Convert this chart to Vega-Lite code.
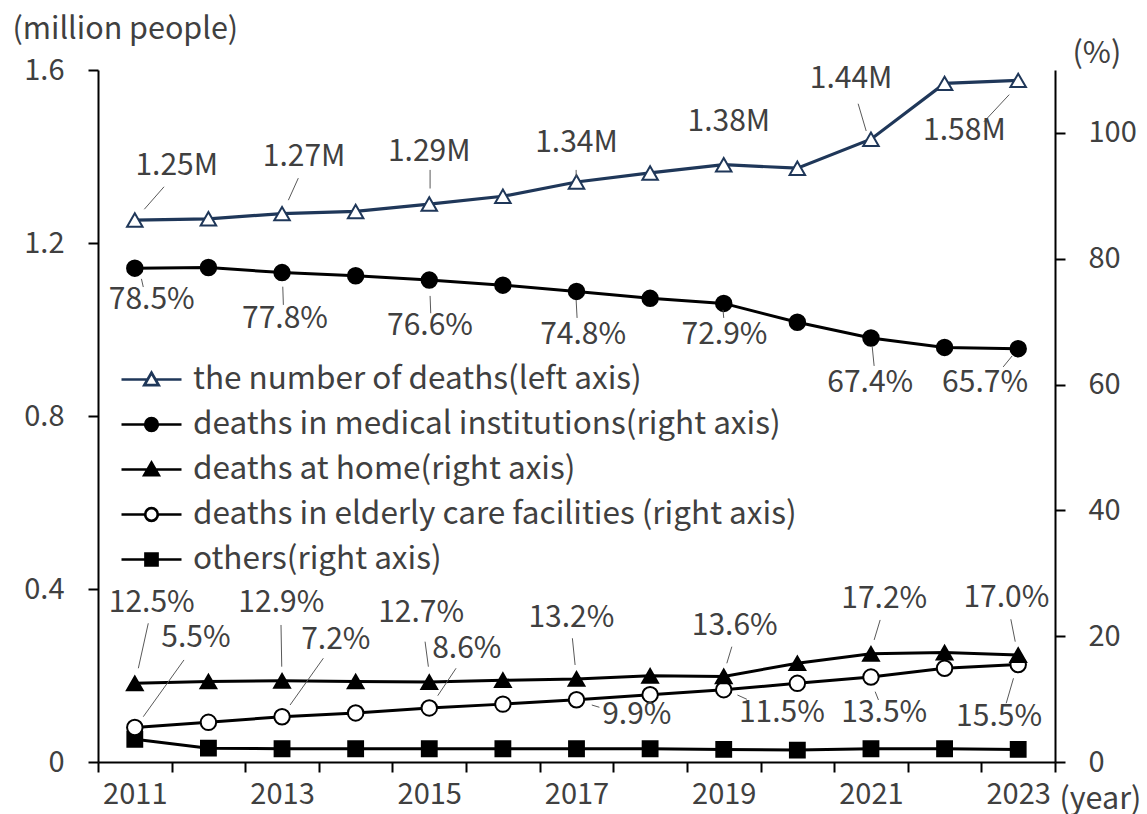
{
  "$schema": "https://vega.github.io/schema/vega-lite/v6.json",
  "width": 957,
  "height": 692,
  "autosize": {"type": "none"},
  "padding": {"left": 98, "top": 70, "right": 92, "bottom": 52},
  "background": "#ffffff",
  "config": {
    "font": "Noto Sans CJK JP",
    "view": {"stroke": null},
    "axis": {"grid": false, "domainColor": "#000000", "domainWidth": 2, "tickColor": "#000000", "tickWidth": 2, "tickSize": 10, "labelFontSize": 29, "labelColor": "#404040", "titleFontSize": 30.5, "titleColor": "#404040", "titleFontWeight": "normal"},
    "legend": {"orient": "none", "legendX": 37, "legendY": 293, "padding": 0, "symbolSize": 900, "symbolStrokeWidth": 2.7, "symbolOpacity": 1, "labelFontSize": 31.5, "labelColor": "#404040", "labelOffset": 25, "rowPadding": 13, "labelLimit": 900}
  },
  "datasets": {
    "deaths": [
      {"year": 2011, "value": 1.253},
      {"year": 2012, "value": 1.256},
      {"year": 2013, "value": 1.268},
      {"year": 2014, "value": 1.273},
      {"year": 2015, "value": 1.290},
      {"year": 2016, "value": 1.308},
      {"year": 2017, "value": 1.341},
      {"year": 2018, "value": 1.362},
      {"year": 2019, "value": 1.381},
      {"year": 2020, "value": 1.373},
      {"year": 2021, "value": 1.440},
      {"year": 2022, "value": 1.569},
      {"year": 2023, "value": 1.576}
    ],
    "shares": [
      {"year": 2011, "series": "others", "value": 3.6},
      {"year": 2012, "series": "others", "value": 2.2},
      {"year": 2013, "series": "others", "value": 2.1},
      {"year": 2014, "series": "others", "value": 2.1},
      {"year": 2015, "series": "others", "value": 2.1},
      {"year": 2016, "series": "others", "value": 2.1},
      {"year": 2017, "series": "others", "value": 2.1},
      {"year": 2018, "series": "others", "value": 2.1},
      {"year": 2019, "series": "others", "value": 2.0},
      {"year": 2020, "series": "others", "value": 1.9},
      {"year": 2021, "series": "others", "value": 2.1},
      {"year": 2022, "series": "others", "value": 2.1},
      {"year": 2023, "series": "others", "value": 2.0},
      {"year": 2011, "series": "elderly", "value": 5.5},
      {"year": 2012, "series": "elderly", "value": 6.3},
      {"year": 2013, "series": "elderly", "value": 7.2},
      {"year": 2014, "series": "elderly", "value": 7.8},
      {"year": 2015, "series": "elderly", "value": 8.6},
      {"year": 2016, "series": "elderly", "value": 9.2},
      {"year": 2017, "series": "elderly", "value": 9.9},
      {"year": 2018, "series": "elderly", "value": 10.7},
      {"year": 2019, "series": "elderly", "value": 11.5},
      {"year": 2020, "series": "elderly", "value": 12.5},
      {"year": 2021, "series": "elderly", "value": 13.5},
      {"year": 2022, "series": "elderly", "value": 14.9},
      {"year": 2023, "series": "elderly", "value": 15.5},
      {"year": 2011, "series": "home", "value": 12.5},
      {"year": 2012, "series": "home", "value": 12.8},
      {"year": 2013, "series": "home", "value": 12.9},
      {"year": 2014, "series": "home", "value": 12.8},
      {"year": 2015, "series": "home", "value": 12.7},
      {"year": 2016, "series": "home", "value": 13.0},
      {"year": 2017, "series": "home", "value": 13.2},
      {"year": 2018, "series": "home", "value": 13.7},
      {"year": 2019, "series": "home", "value": 13.6},
      {"year": 2020, "series": "home", "value": 15.7},
      {"year": 2021, "series": "home", "value": 17.2},
      {"year": 2022, "series": "home", "value": 17.4},
      {"year": 2023, "series": "home", "value": 17.0},
      {"year": 2011, "series": "medical", "value": 78.5},
      {"year": 2012, "series": "medical", "value": 78.6},
      {"year": 2013, "series": "medical", "value": 77.8},
      {"year": 2014, "series": "medical", "value": 77.3},
      {"year": 2015, "series": "medical", "value": 76.6},
      {"year": 2016, "series": "medical", "value": 75.8},
      {"year": 2017, "series": "medical", "value": 74.8},
      {"year": 2018, "series": "medical", "value": 73.7},
      {"year": 2019, "series": "medical", "value": 72.9},
      {"year": 2020, "series": "medical", "value": 69.9},
      {"year": 2021, "series": "medical", "value": 67.4},
      {"year": 2022, "series": "medical", "value": 65.9},
      {"year": 2023, "series": "medical", "value": 65.7}
    ],
    "deathLabels": [
      {"text": "1.25M", "labelYear": 2011.57, "labelValue": 1.378, "fromYear": 2011.129, "fromValue": 1.278, "toYear": 2011.397, "toValue": 1.330},
      {"text": "1.27M", "labelYear": 2013.30, "labelValue": 1.399, "fromYear": 2013.086, "fromValue": 1.299, "toYear": 2013.221, "toValue": 1.350},
      {"text": "1.29M", "labelYear": 2015.00, "labelValue": 1.410, "fromYear": 2015.011, "fromValue": 1.326, "toYear": 2015.011, "toValue": 1.369},
      {"text": "1.34M", "labelYear": 2017.00, "labelValue": 1.431, "fromYear": 2016.995, "fromValue": 1.353, "toYear": 2016.995, "toValue": 1.369},
      {"text": "1.38M", "labelYear": 2019.07, "labelValue": 1.480, "fromYear": 2019.0, "fromValue": 1.395, "toYear": 2019.0, "toValue": 1.395},
      {"text": "1.44M", "labelYear": 2020.73, "labelValue": 1.579, "fromYear": 2020.935, "fromValue": 1.459, "toYear": 2020.826, "toValue": 1.522},
      {"text": "1.58M", "labelYear": 2022.27, "labelValue": 1.459, "fromYear": 2022.878, "fromValue": 1.543, "toYear": 2022.533, "toValue": 1.480}
    ],
    "shareLabels": [
      {"text": "78.5%", "labelYear": 2011.23, "labelValue": 73.4, "fromYear": 2011.09, "fromValue": 76.8, "toYear": 2011.115, "toValue": 75.5},
      {"text": "77.8%", "labelYear": 2013.04, "labelValue": 70.4, "fromYear": 2013.01, "fromValue": 75.56, "toYear": 2013.018, "toValue": 72.66},
      {"text": "76.6%", "labelYear": 2015.01, "labelValue": 69.3, "fromYear": 2015.011, "fromValue": 74.09, "toYear": 2015.02, "toValue": 71.34},
      {"text": "74.8%", "labelYear": 2017.09, "labelValue": 67.8, "fromYear": 2016.995, "fromValue": 73.45, "toYear": 2017.008, "toValue": 70.59},
      {"text": "72.9%", "labelYear": 2019.01, "labelValue": 67.8, "fromYear": 2018.99, "fromValue": 71.86, "toYear": 2019.0, "toValue": 70.59},
      {"text": "67.4%", "labelYear": 2020.99, "labelValue": 60.3, "fromYear": 2021.016, "fromValue": 66.14, "toYear": 2021.043, "toValue": 62.96},
      {"text": "65.7%", "labelYear": 2022.55, "labelValue": 60.3, "fromYear": 2022.918, "fromValue": 64.55, "toYear": 2022.796, "toValue": 62.80},
      {"text": "12.5%", "labelYear": 2011.23, "labelValue": 25.3, "fromYear": 2011.183, "fromValue": 22.05, "toYear": 2011.048, "toValue": 14.9},
      {"text": "12.9%", "labelYear": 2012.99, "labelValue": 25.3, "fromYear": 2012.986, "fromValue": 21.78, "toYear": 2012.996, "toValue": 15.15},
      {"text": "12.7%", "labelYear": 2014.89, "labelValue": 23.7, "fromYear": 2014.943, "fromValue": 19.13, "toYear": 2014.988, "toValue": 15.15},
      {"text": "13.2%", "labelYear": 2016.93, "labelValue": 22.9, "fromYear": 2016.944, "fromValue": 19.67, "toYear": 2016.981, "toValue": 15.42},
      {"text": "13.6%", "labelYear": 2019.15, "labelValue": 21.6, "fromYear": 2019.11, "fromValue": 18.33, "toYear": 2019.042, "toValue": 15.69},
      {"text": "17.2%", "labelYear": 2021.18, "labelValue": 25.9, "fromYear": 2021.125, "fromValue": 22.58, "toYear": 2021.043, "toValue": 19.40},
      {"text": "17.0%", "labelYear": 2022.84, "labelValue": 26.1, "fromYear": 2022.90, "fromValue": 22.69, "toYear": 2022.96, "toValue": 19.13},
      {"text": "5.5%", "labelYear": 2011.83, "labelValue": 19.7, "fromYear": 2011.668, "fromValue": 16.22, "toYear": 2011.115, "toValue": 7.20},
      {"text": "7.2%", "labelYear": 2013.73, "labelValue": 19.4, "fromYear": 2013.561, "fromValue": 16.49, "toYear": 2013.109, "toValue": 9.06},
      {"text": "8.6%", "labelYear": 2015.51, "labelValue": 18.0, "fromYear": 2015.364, "fromValue": 14.90, "toYear": 2015.115, "toValue": 10.54},
      {"text": "9.9%", "labelYear": 2017.82, "labelValue": 7.5, "fromYear": 2017.208, "fromValue": 9.06, "toYear": 2017.311, "toValue": 8.70},
      {"text": "11.5%", "labelYear": 2019.79, "labelValue": 7.8, "fromYear": 2019.186, "fromValue": 10.65, "toYear": 2019.314, "toValue": 9.97},
      {"text": "13.5%", "labelYear": 2021.18, "labelValue": 7.8, "fromYear": 2021.057, "fromValue": 11.18, "toYear": 2021.102, "toValue": 9.86},
      {"text": "15.5%", "labelYear": 2022.74, "labelValue": 7.2, "fromYear": 2022.936, "fromValue": 13.31, "toYear": 2022.837, "toValue": 9.33}
    ],
    "legendEntries": [
      {"series": "deaths"},
      {"series": "medical"},
      {"series": "home"},
      {"series": "elderly"},
      {"series": "others"}
    ]
  },
  "layer": [
    {
      "data": {"name": "deaths"},
      "layer": [
        {
          "mark": {"type": "line", "strokeWidth": 3.2, "stroke": "#1F3759"},
          "encoding": {
            "x": {"field": "year", "type": "quantitative", "scale": {"domain": [2010.5, 2023.5], "nice": false, "zero": false},
              "axis": {"values": [2010.5, 2011.5, 2012.5, 2013.5, 2014.5, 2015.5, 2016.5, 2017.5, 2018.5, 2019.5, 2020.5, 2021.5, 2022.5, 2023.5],
                "labelExpr": "(datum.value + 0.5) % 2 == 1 ? format(datum.value + 0.5, 'd') : ''",
                "labelOffset": 36.8, "labelOverlap": false, "labelFlush": false, "labelBound": false, "labelPadding": 8,
                "title": "(year)", "titleAlign": "left", "titleAnchor": "start", "titleBaseline": "alphabetic", "titleX": 961, "titleY": 46}},
            "y": {"field": "value", "type": "quantitative", "scale": {"domain": [0, 1.6], "nice": false, "zero": true},
              "axis": {"orient": "left", "values": [0, 0.4, 0.8, 1.2, 1.6], "format": "~g", "labelPadding": 24,
                "title": "(million people)", "titleAngle": 0, "titleAlign": "left", "titleBaseline": "alphabetic", "titleX": -86, "titleY": -32}}
          }
        },
        {
          "mark": {"type": "point", "shape": "triangle-up", "filled": true, "fill": "#ffffff", "stroke": "#1F3759", "size": 240, "strokeWidth": 2, "opacity": 1},
          "encoding": {
            "x": {"field": "year", "type": "quantitative", "scale": {"domain": [2010.5, 2023.5], "nice": false, "zero": false}},
            "y": {"field": "value", "type": "quantitative", "scale": {"domain": [0, 1.6], "nice": false, "zero": true}}
          }
        },
        {
          "data": {"name": "deathLabels"},
          "mark": {"type": "rule", "stroke": "#595959", "strokeWidth": 1},
          "encoding": {
            "x": {"field": "fromYear", "type": "quantitative", "scale": {"domain": [2010.5, 2023.5], "nice": false, "zero": false}},
            "x2": {"field": "toYear"},
            "y": {"field": "fromValue", "type": "quantitative", "scale": {"domain": [0, 1.6], "nice": false, "zero": true}},
            "y2": {"field": "toValue"}
          }
        },
        {
          "data": {"name": "deathLabels"},
          "mark": {"type": "text", "fontSize": 30, "fill": "#404040", "align": "center", "baseline": "middle"},
          "encoding": {
            "x": {"field": "labelYear", "type": "quantitative", "scale": {"domain": [2010.5, 2023.5], "nice": false, "zero": false}},
            "y": {"field": "labelValue", "type": "quantitative", "scale": {"domain": [0, 1.6], "nice": false, "zero": true}},
            "text": {"field": "text", "type": "nominal"}
          }
        }
      ]
    },
    {
      "data": {"name": "shares"},
      "layer": [
        {
          "mark": {"type": "line", "strokeWidth": 3, "stroke": "#000000"},
          "encoding": {
            "x": {"field": "year", "type": "quantitative", "scale": {"domain": [2010.5, 2023.5], "nice": false, "zero": false}},
            "y": {"field": "value", "type": "quantitative", "scale": {"domain": [0, 110], "nice": false, "zero": true},
              "axis": {"orient": "right", "values": [0, 20, 40, 60, 80, 100], "labelPadding": 23,
                "title": "(%)", "titleAngle": 0, "titleAlign": "left", "titleBaseline": "alphabetic", "titleX": 17, "titleY": -8}},
            "detail": {"field": "series", "type": "nominal"}
          }
        },
        {
          "transform": [{"filter": "datum.series == 'others'"}],
          "mark": {"type": "point", "shape": "square", "filled": true, "fill": "#000000", "stroke": "#000000", "size": 220, "strokeWidth": 2, "opacity": 1},
          "encoding": {
            "x": {"field": "year", "type": "quantitative", "scale": {"domain": [2010.5, 2023.5], "nice": false, "zero": false}},
            "y": {"field": "value", "type": "quantitative", "scale": {"domain": [0, 110], "nice": false, "zero": true}}
          }
        },
        {
          "transform": [{"filter": "datum.series == 'elderly'"}],
          "mark": {"type": "point", "shape": "circle", "filled": true, "fill": "#ffffff", "stroke": "#000000", "size": 240, "strokeWidth": 2, "opacity": 1},
          "encoding": {
            "x": {"field": "year", "type": "quantitative", "scale": {"domain": [2010.5, 2023.5], "nice": false, "zero": false}},
            "y": {"field": "value", "type": "quantitative", "scale": {"domain": [0, 110], "nice": false, "zero": true}}
          }
        },
        {
          "transform": [{"filter": "datum.series == 'home'"}],
          "mark": {"type": "point", "shape": "triangle-up", "filled": true, "fill": "#000000", "stroke": "#000000", "size": 250, "strokeWidth": 2, "opacity": 1},
          "encoding": {
            "x": {"field": "year", "type": "quantitative", "scale": {"domain": [2010.5, 2023.5], "nice": false, "zero": false}},
            "y": {"field": "value", "type": "quantitative", "scale": {"domain": [0, 110], "nice": false, "zero": true}}
          }
        },
        {
          "transform": [{"filter": "datum.series == 'medical'"}],
          "mark": {"type": "point", "shape": "circle", "filled": true, "fill": "#000000", "stroke": "#000000", "size": 240, "strokeWidth": 2, "opacity": 1},
          "encoding": {
            "x": {"field": "year", "type": "quantitative", "scale": {"domain": [2010.5, 2023.5], "nice": false, "zero": false}},
            "y": {"field": "value", "type": "quantitative", "scale": {"domain": [0, 110], "nice": false, "zero": true}}
          }
        },
        {
          "data": {"name": "shareLabels"},
          "mark": {"type": "rule", "stroke": "#595959", "strokeWidth": 1},
          "encoding": {
            "x": {"field": "fromYear", "type": "quantitative", "scale": {"domain": [2010.5, 2023.5], "nice": false, "zero": false}},
            "x2": {"field": "toYear"},
            "y": {"field": "fromValue", "type": "quantitative", "scale": {"domain": [0, 110], "nice": false, "zero": true}},
            "y2": {"field": "toValue"}
          }
        },
        {
          "data": {"name": "shareLabels"},
          "mark": {"type": "text", "fontSize": 30, "fill": "#404040", "align": "center", "baseline": "middle"},
          "encoding": {
            "x": {"field": "labelYear", "type": "quantitative", "scale": {"domain": [2010.5, 2023.5], "nice": false, "zero": false}},
            "y": {"field": "labelValue", "type": "quantitative", "scale": {"domain": [0, 110], "nice": false, "zero": true}},
            "text": {"field": "text", "type": "nominal"}
          }
        }
      ]
    },
    {
      "data": {"name": "legendEntries"},
      "mark": {"type": "point", "filled": true, "opacity": 0, "strokeWidth": 2.7},
      "encoding": {
        "shape": {"field": "series", "type": "nominal",
          "scale": {"domain": ["deaths", "medical", "home", "elderly", "others"],
            "range": ["M-2,0H-0.26M0.26,0H2M0,-0.45L0.48,0.38L-0.48,0.38Z", "M-2,0H2M0.42,0A0.42,0.42,0,1,1,-0.42,0A0.42,0.42,0,1,1,0.42,0Z", "M-2,0H2M0,-0.45L0.48,0.38L-0.48,0.38Z", "M-2,0H-0.42M0.42,0H2M0.42,0A0.42,0.42,0,1,1,-0.42,0A0.42,0.42,0,1,1,0.42,0Z", "M-2,0H2M-0.4,-0.4H0.4V0.4H-0.4Z"]},
          "legend": {"title": null,
            "labelExpr": "datum.value == 'deaths' ? 'the number of deaths(left axis)' : datum.value == 'medical' ? 'deaths in medical institutions(right axis)' : datum.value == 'home' ? 'deaths at home(right axis)' : datum.value == 'elderly' ? 'deaths in elderly care facilities (right axis)' : 'others(right axis)'"}},
        "fill": {"field": "series", "type": "nominal",
          "scale": {"domain": ["deaths", "medical", "home", "elderly", "others"], "range": ["#ffffff", "#000000", "#000000", "#ffffff", "#000000"]},
          "legend": {"title": null,
            "labelExpr": "datum.value == 'deaths' ? 'the number of deaths(left axis)' : datum.value == 'medical' ? 'deaths in medical institutions(right axis)' : datum.value == 'home' ? 'deaths at home(right axis)' : datum.value == 'elderly' ? 'deaths in elderly care facilities (right axis)' : 'others(right axis)'"}},
        "stroke": {"field": "series", "type": "nominal",
          "scale": {"domain": ["deaths", "medical", "home", "elderly", "others"], "range": ["#1F3759", "#000000", "#000000", "#000000", "#000000"]},
          "legend": {"title": null,
            "labelExpr": "datum.value == 'deaths' ? 'the number of deaths(left axis)' : datum.value == 'medical' ? 'deaths in medical institutions(right axis)' : datum.value == 'home' ? 'deaths at home(right axis)' : datum.value == 'elderly' ? 'deaths in elderly care facilities (right axis)' : 'others(right axis)'"}}
      }
    }
  ],
  "resolve": {"scale": {"y": "independent"}}
}
